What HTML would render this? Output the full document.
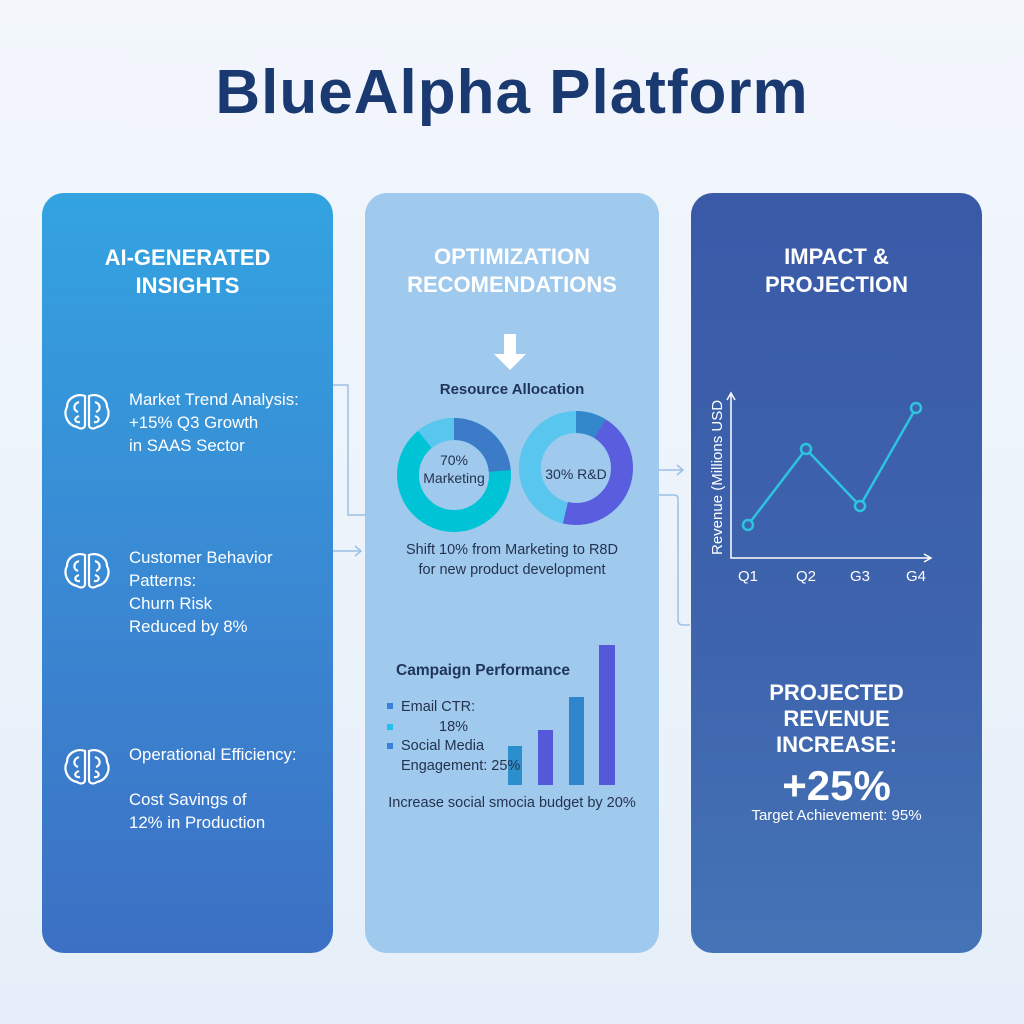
<!DOCTYPE html>
<html><head><meta charset="utf-8"><style>
body{margin:0;width:1024px;height:1024px;overflow:hidden;font-family:"Liberation Sans",sans-serif;background:linear-gradient(180deg,#f3f7fc 0%,#e6eff9 100%);position:relative}
.p{position:absolute;border-radius:22px}
.t{position:absolute;text-align:center;font-weight:bold}
.a{position:absolute;color:#fff;font-size:16.8px;line-height:23px}
</style></head><body>
<div class="t" style="left:0;width:1024px;top:57px;font-size:62px;color:#1a3970;letter-spacing:1px">BlueAlpha Platform</div>

<div class="p" style="left:42px;top:193px;width:291px;height:760px;background:linear-gradient(180deg,#33a3e1 0%,#3a87d2 55%,#3c70c4 100%)"></div>
<div class="p" style="left:365px;top:193px;width:294px;height:760px;background:#a0c9ee"></div>
<div class="p" style="left:691px;top:193px;width:291px;height:760px;background:linear-gradient(180deg,#3a5aa8 0%,#3e64ad 60%,#4474b7 100%)"></div>

<div class="t" style="left:42px;width:291px;top:244px;font-size:22px;line-height:28px;color:#fff">AI-GENERATED<br>INSIGHTS</div>
<div class="t" style="left:365px;width:294px;top:243px;font-size:22px;line-height:28px;color:#fff">OPTIMIZATION<br>RECOMENDATIONS</div>
<div class="t" style="left:691px;width:291px;top:243px;font-size:22px;line-height:28px;color:#fff">IMPACT &amp;<br>PROJECTION</div>

<svg width="1024" height="1024" style="position:absolute;left:0;top:0">
<defs><g id="br" fill="none" stroke="#fff" stroke-width="2.2">
<path d="M-2,-16 C-10,-19 -20,-14 -20,-5 C-24,2 -20,13 -10,15 C-6,18 -2,16 -2,13 Z"/>
<path d="M2,-16 C10,-19 20,-14 20,-5 C24,2 20,13 10,15 C6,18 2,16 2,13 Z"/>
<path d="M-8,-10 C-14,-8 -14,-2 -9,0 M-8,4 C-14,6 -12,11 -7,10 M8,-10 C14,-8 14,-2 9,0 M8,4 C14,6 12,11 7,10"/>
</g></defs>
<use href="#br" x="87" y="412"/><use href="#br" x="87" y="571"/><use href="#br" x="87" y="767"/>
<g stroke="#9cc0e6" stroke-width="1.5" fill="none">
<path d="M333,385 H348 V515 H366"/>
<path d="M333,551 H360"/><path d="M355,546 L361,551 L355,556"/>
<path d="M659,470 H682"/><path d="M677,465 L683,470 L677,475"/>
<path d="M659,495 H674 Q678,495 678,499 V620 Q678,625 683,625 H690"/>
</g>
<path d="M504,334 H516 V354 H526 L510,370 L494,354 H504 Z" fill="#fff"/>
<g fill="none" stroke-width="22" transform="rotate(-90 454 475)">
<circle cx="454" cy="475" r="46" stroke="#00c4d6"/>
<circle cx="454" cy="475" r="46" stroke="#3b7bc8" stroke-dasharray="68 221"/>
<circle cx="454" cy="475" r="46" stroke="#58c6ef" stroke-dasharray="32 257" stroke-dashoffset="-257"/>
</g>
<g fill="none" stroke-width="22" transform="rotate(-90 576 468)">
<circle cx="576" cy="468" r="46" stroke="#58c6ef"/>
<circle cx="576" cy="468" r="46" stroke="#5a5ede" stroke-dasharray="130 159" stroke-dashoffset="-25"/>
<circle cx="576" cy="468" r="46" stroke="#3388cc" stroke-dasharray="25 264"/>
</g>
<rect x="508" y="746" width="14" height="39" fill="#2a8fcc"/>
<rect x="538" y="730" width="15" height="55" fill="#5558d8"/>
<rect x="569" y="697" width="15" height="88" fill="#2f86cc"/>
<rect x="599" y="645" width="16" height="140" fill="#5558d8"/>
<rect x="387" y="703" width="6" height="6" fill="#3a7ee0"/>
<rect x="387" y="724" width="6" height="6" fill="#20c0f0"/>
<rect x="387" y="743" width="6" height="6" fill="#3a7ee0"/>
<g stroke="#fff" stroke-width="1.5" fill="none">
<path d="M731,395 V558 H930"/><path d="M727,400 L731,393 L735,400"/><path d="M924,554 L931,558 L924,562"/>
</g>
<polyline points="748,525 806,449 860,506 916,408" fill="none" stroke="#2ec4e0" stroke-width="2.5"/>
<g fill="#3e64ad" stroke="#2ec4e0" stroke-width="2.5">
<circle cx="748" cy="525" r="5"/><circle cx="806" cy="449" r="5"/><circle cx="860" cy="506" r="5"/><circle cx="916" cy="408" r="5"/>
</g>
<text transform="translate(722,555) rotate(-90)" fill="#fff" font-family="Liberation Sans" font-size="15">Revenue (Millions USD</text>
<g fill="#fff" font-family="Liberation Sans" font-size="15" text-anchor="middle">
<text x="748" y="581">Q1</text><text x="806" y="581">Q2</text><text x="860" y="581">G3</text><text x="916" y="581">G4</text>
</g>
</svg>

<div class="a" style="left:129px;top:388px">Market Trend Analysis:<br>+15% Q3 Growth<br>in SAAS Sector</div>
<div class="a" style="left:129px;top:546px">Customer Behavior<br>Patterns:<br>Churn Risk<br>Reduced by 8%</div>
<div class="a" style="left:129px;top:743px">Operational Efficiency:</div>
<div class="a" style="left:129px;top:788px">Cost Savings of<br>12% in Production</div>

<div class="t" style="left:365px;width:294px;top:381px;font-size:15px;color:#1f3558">Resource Allocation</div>
<div style="position:absolute;left:404px;width:100px;top:451px;text-align:center;font-size:14px;line-height:18px;color:#24334d">70%<br>Marketing</div>
<div style="position:absolute;left:526px;width:100px;top:466px;text-align:center;font-size:14px;color:#24334d">30% R&amp;D</div>
<div style="position:absolute;left:365px;width:294px;top:540px;text-align:center;font-size:14.5px;line-height:20px;color:#24334d">Shift 10% from Marketing to R8D<br>for new product development</div>
<div style="position:absolute;left:396px;top:662px;font-size:15.5px;font-weight:bold;color:#1f3558">Campaign Performance</div>
<div style="position:absolute;left:401px;top:698px;font-size:14.5px;line-height:19.5px;color:#24334d">Email CTR:<br><span style="padding-left:38px">18%</span><br>Social Media<br>Engagement: 25%</div>
<div style="position:absolute;left:365px;width:294px;top:795px;text-align:center;font-size:14.5px;color:#24334d">Increase social smocia budget by 20%</div>

<div class="t" style="left:691px;width:291px;top:680px;font-size:22px;line-height:26px;color:#fff">PROJECTED<br>REVENUE<br>INCREASE:</div>
<div class="t" style="left:691px;width:291px;top:762px;font-size:42px;color:#fff">+25%</div>
<div style="position:absolute;left:691px;width:291px;top:807px;text-align:center;font-size:15px;color:#fff">Target Achievement: 95%</div>
</body></html>
